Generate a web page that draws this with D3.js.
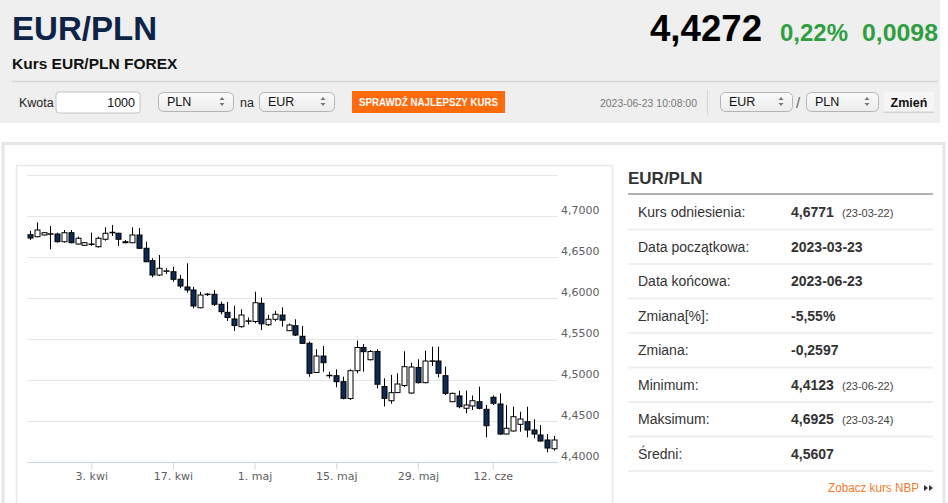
<!DOCTYPE html>
<html>
<head>
<meta charset="utf-8">
<script src="https://cdn.jsdelivr.net/npm/d3@7"></script>
<style>
  html, body { margin: 0; padding: 0; background: #fff; overflow: hidden; }
  svg { display: block; }
</style>
</head>
<body>
<div id="chart"></div>
<script>
// trading days (MM-DD, 2023) shown as candles
const days = [
  "03-23","03-24","03-26","03-27","03-28","03-29","03-30","03-31",
  "04-02","04-03","04-04","04-05","04-06","04-07",
  "04-09","04-10","04-11","04-12","04-13","04-14",
  "04-16","04-17","04-18","04-19","04-20","04-21",
  "04-23","04-24","04-25","04-26","04-27","04-28",
  "04-30","05-01","05-02","05-03","05-04","05-05",
  "05-07","05-08","05-09","05-10","05-11","05-12",
  "05-14","05-15","05-16","05-17","05-18","05-19",
  "05-21","05-22","05-23","05-24","05-25","05-26",
  "05-28","05-29","05-30","05-31","06-01","06-02",
  "06-05","06-06","06-07","06-08","06-09",
  "06-11","06-12","06-13","06-14","06-15","06-16",
  "06-19","06-20","06-21","06-22","06-23"
];
const opens = [
  4.6776,4.6751,4.6772,4.6784,4.6784,4.6690,4.6800,4.6662,4.6646,4.6662,
  4.6629,4.6720,4.6800,4.6793,4.6690,4.6678,4.6772,4.6610,4.6459,4.6284,
  4.6333,4.6324,4.6232,4.6138,4.6101,4.5885,4.6051,4.6049,4.5927,4.5829,
  4.5748,4.5654,4.5723,4.5717,4.5939,4.5678,4.5744,4.5796,4.5605,4.5666,
  4.5537,4.5451,4.5095,4.5296,4.5061,4.5056,4.4983,4.4778,4.5117,4.5400,
  4.5251,4.5351,4.4924,4.4751,4.4850,4.4937,4.4845,4.5156,4.4971,4.5233,
  4.5235,4.5056,4.4739,4.4809,4.4659,4.4687,4.4739,4.4646,4.4793,4.4711,
  4.4345,4.4382,4.4463,4.4495,4.4394,4.4333,4.4272,4.4165
];
const highs = [
  4.6821,4.6925,4.6809,4.6882,4.6800,4.6833,4.6833,4.6751,4.6685,4.6800,
  4.6751,4.6866,4.6894,4.6800,4.6711,4.6866,4.6857,4.6690,4.6488,4.6528,
  4.6366,4.6385,4.6284,4.6427,4.6138,4.6080,4.6065,4.6101,4.5959,4.5955,
  4.5910,4.5866,4.5766,4.6080,4.6007,4.5796,4.5846,4.5890,4.5693,4.5744,
  4.5663,4.5471,4.5378,4.5418,4.5105,4.5134,4.5044,4.5134,4.5485,4.5443,
  4.5369,4.5378,4.5024,4.5065,4.5085,4.5354,4.5215,4.5256,4.5360,4.5410,
  4.5410,4.5166,4.4850,4.4873,4.4873,4.4815,4.4922,4.4699,4.4815,4.4841,
  4.4699,4.4678,4.4617,4.4678,4.4524,4.4455,4.4345,4.4321
];
const lows = [
  4.6711,4.6744,4.6766,4.6598,4.6678,4.6678,4.6671,4.6654,4.6640,4.6641,
  4.6617,4.6702,4.6760,4.6638,4.6671,4.6672,4.6602,4.6440,4.6256,4.6272,
  4.6296,4.6202,4.6122,4.6068,4.5878,4.5878,4.6028,4.5906,4.5805,4.5723,
  4.5601,4.5641,4.5680,4.5695,4.5613,4.5664,4.5720,4.5654,4.5601,4.5540,
  4.5443,4.5044,4.5092,4.5105,4.5024,4.4915,4.4768,4.4760,4.5085,4.5105,
  4.5241,4.4902,4.4680,4.4715,4.4849,4.4918,4.4833,4.4963,4.4963,4.5174,
  4.5037,4.4821,4.4735,4.4659,4.4598,4.4638,4.4646,4.4305,4.4699,4.4333,
  4.4337,4.4373,4.4373,4.4305,4.4293,4.4251,4.4123,4.4142
];
const closes = [
  4.6735,4.6833,4.6800,4.6787,4.6690,4.6800,4.6678,4.6732,4.6678,4.6659,
  4.6732,4.6793,4.6805,4.6720,4.6678,4.6772,4.6610,4.6446,4.6284,4.6366,
  4.6335,4.6232,4.6150,4.6101,4.5906,4.6040,4.6047,4.5927,4.5837,4.5766,
  4.5668,4.5796,4.5725,4.5946,4.5689,4.5744,4.5805,4.5733,4.5674,4.5552,
  4.5451,4.5085,4.5296,4.5215,4.5059,4.4983,4.4780,4.5117,4.5400,4.5349,
  4.5351,4.4952,4.4780,4.4849,4.4955,4.5166,4.5162,4.4971,4.5235,4.5237,
  4.5085,4.4841,4.4841,4.4678,4.4699,4.4751,4.4659,4.4446,4.4720,4.4345,
  4.4415,4.4556,4.4528,4.4394,4.4345,4.4260,4.4174,4.4272
];

const yGrid = [4.40, 4.45, 4.50, 4.55, 4.60, 4.65, 4.70, 4.75];
const yLabels = [4.40, 4.45, 4.50, 4.55, 4.60, 4.65, 4.70];
const xTickDays = ["04-03", "04-17", "05-01", "05-15", "05-29", "06-12"];
const xTickLabels = ["3. kwi", "17. kwi", "1. maj", "15. maj", "29. maj", "12. cze"];

const statLabels = ["Kurs odniesienia:", "Data początkowa:", "Data końcowa:", "Zmiana[%]:",
  "Zmiana:", "Minimum:", "Maksimum:", "Średni:"];
const statValues = ["4,6771", "2023-03-23", "2023-06-23", "-5,55%", "-0,2597", "4,4123", "4,6925", "4,5607"];
const statDates = ["(23-03-22)", "", "", "", "", "(23-06-22)", "(23-03-24)", ""];

const W = 948, H = 503;
const SANS = "'Liberation Sans', Arial, sans-serif";
const CHART_FONT = "'DejaVu Sans', Verdana, sans-serif";

const svg = d3.select("#chart").append("svg").attr("width", W).attr("height", H);

// ---- header
svg.append("rect").attr("x", 0).attr("y", 0).attr("width", 940).attr("height", 123).attr("fill", "#efefef");

svg.append("text").attr("x", 12).attr("y", 39.5)
  .attr("textLength", 145).attr("lengthAdjust", "spacingAndGlyphs")
  .style("font", `bold 34px ${SANS}`).attr("fill", "#0d2447").text("EUR/PLN");

svg.append("text").attr("x", 650).attr("y", 41)
  .attr("textLength", 112).attr("lengthAdjust", "spacingAndGlyphs")
  .style("font", `bold 37px ${SANS}`).attr("fill", "#000").text("4,4272");
svg.append("text").attr("x", 780).attr("y", 40.5)
  .attr("textLength", 68).attr("lengthAdjust", "spacingAndGlyphs")
  .style("font", `bold 24px ${SANS}`).attr("fill", "#2f9e41").text("0,22%");
svg.append("text").attr("x", 862).attr("y", 40.5)
  .attr("textLength", 76).attr("lengthAdjust", "spacingAndGlyphs")
  .style("font", `bold 24px ${SANS}`).attr("fill", "#2f9e41").text("0,0098");

svg.append("text").attr("x", 12).attr("y", 68.5)
  .style("font", `bold 15.5px ${SANS}`).attr("fill", "#111").text("Kurs EUR/PLN FOREX");

svg.append("line").attr("x1", 12).attr("x2", 938).attr("y1", 81.5).attr("y2", 81.5)
  .attr("stroke", "#d8d8d8").attr("stroke-width", 1.5);

// ---- controls row
const ctrl = svg.append("g");
ctrl.append("text").attr("x", 19).attr("y", 107).style("font", `12.5px ${SANS}`).attr("fill", "#222").text("Kwota");
ctrl.append("rect").attr("x", 56).attr("y", 92).attr("width", 84).attr("height", 21).attr("rx", 3)
  .attr("fill", "#fff").attr("stroke", "#c4c4c4");
ctrl.append("text").attr("x", 135).attr("y", 107).attr("text-anchor", "end")
  .style("font", `12.5px ${SANS}`).attr("fill", "#111").text("1000");

const grad = svg.append("defs").append("linearGradient").attr("id", "selGrad")
  .attr("x1", 0).attr("x2", 0).attr("y1", 0).attr("y2", 1);
grad.append("stop").attr("offset", 0).attr("stop-color", "#fbfbfb");
grad.append("stop").attr("offset", 1).attr("stop-color", "#ececec");

function drawSelect(x, w, label) {
  const g = ctrl.append("g");
  g.append("rect").attr("x", x + 0.5).attr("y", 92.5).attr("width", w).attr("height", 19).attr("rx", 5)
    .attr("fill", "url(#selGrad)").attr("stroke", "#b4b4b4");
  g.append("text").attr("x", x + 9).attr("y", 106).style("font", `12.5px ${SANS}`).attr("fill", "#111").text(label);
  const ax = x + w - 11;
  g.append("path").attr("d", `M${ax - 2.5},100 L${ax + 2.5},100 L${ax},97 Z M${ax - 2.5},103 L${ax + 2.5},103 L${ax},106 Z`)
    .attr("fill", "#777");
}
drawSelect(158, 75, "PLN");
ctrl.append("text").attr("x", 240).attr("y", 107).style("font", `12.5px ${SANS}`).attr("fill", "#222").text("na");
drawSelect(259, 75, "EUR");

ctrl.append("rect").attr("x", 352).attr("y", 91).attr("width", 153).attr("height", 22).attr("fill", "#ff6a0d");
ctrl.append("text").attr("x", 359).attr("y", 106)
  .attr("textLength", 139).attr("lengthAdjust", "spacingAndGlyphs")
  .style("font", `bold 11px ${SANS}`).attr("fill", "#fff").text("SPRAWDŹ NAJLEPSZY KURS");

ctrl.append("text").attr("x", 600).attr("y", 107)
  .attr("textLength", 97).attr("lengthAdjust", "spacingAndGlyphs")
  .style("font", `11px ${SANS}`).attr("fill", "#777").text("2023-06-23 10:08:00");
ctrl.append("line").attr("x1", 707.5).attr("x2", 707.5).attr("y1", 90).attr("y2", 115).attr("stroke", "#d6d6d6");
drawSelect(720, 72, "EUR");
ctrl.append("text").attr("x", 796).attr("y", 108).style("font", `15px ${SANS}`).attr("fill", "#666").text("/");
drawSelect(806, 72, "PLN");
ctrl.append("rect").attr("x", 884).attr("y", 93).attr("width", 50).attr("height", 20).attr("fill", "#d2d2d2");
ctrl.append("rect").attr("x", 884).attr("y", 92).attr("width", 50).attr("height", 19.5).attr("fill", "#f6f6f6");
ctrl.append("text").attr("x", 909).attr("y", 107).attr("text-anchor", "middle")
  .style("font", `bold 12.5px ${SANS}`).attr("fill", "#111").text("Zmień");

// ---- lower panel
svg.append("rect").attr("x", 3).attr("y", 143.5).attr("width", 941).attr("height", 400)
  .attr("fill", "#fff").attr("stroke", "#e6e6e6").attr("stroke-width", 3);
svg.append("rect").attr("x", 16.5).attr("y", 165.5).attr("width", 596).attr("height", 360)
  .attr("fill", "#fff").attr("stroke", "#e8e8e8").attr("stroke-width", 1.5);

// ---- candlestick chart
const x = d3.scalePoint().domain(days).range([30, 554]);
const y = d3.scaleLinear().domain([4.40, 4.75]).range([462.3, 175.3]);
const plotL = 27, plotR = 558;
const fmt = d => d.toFixed(4).replace(".", ",");

const chart = svg.append("g");
chart.append("g").selectAll("line").data(yGrid.slice(1)).join("line")
  .attr("x1", plotL).attr("x2", plotR)
  .attr("y1", d => Math.round(y(d)) + 0.5).attr("y2", d => Math.round(y(d)) + 0.5)
  .attr("stroke", "#e6e6e6");

const yAxis = chart.append("g").attr("transform", `translate(${plotR},0)`)
  .call(d3.axisRight(y).tickValues(yLabels).tickFormat(fmt).tickSize(0).tickPadding(3));
yAxis.select(".domain").remove();
yAxis.selectAll("text").attr("dy", "-0.3em")
  .style("font", `11px ${CHART_FONT}`).attr("fill", "#606060");

const xAxis = chart.append("g").attr("transform", "translate(0,462.5)")
  .call(d3.axisBottom(x).tickValues(xTickDays)
    .tickFormat(d => xTickLabels[xTickDays.indexOf(d)]).tickSizeOuter(0).tickSize(7).tickPadding(3));
xAxis.select(".domain").attr("d", `M${plotL},0H${plotR}`).attr("stroke", "#ccd6eb");
xAxis.selectAll(".tick line").attr("stroke", "#ccd6eb");
xAxis.selectAll("text").style("font", `11px ${CHART_FONT}`).attr("fill", "#606060");

const candles = chart.append("g").selectAll("g").data(days).join("g")
  .attr("transform", d => `translate(${Math.round(x(d)) + 0.5},0)`);
candles.append("line")
  .attr("y1", (d, i) => y(highs[i])).attr("y2", (d, i) => y(lows[i]))
  .attr("stroke", "#000");
candles.append("rect")
  .attr("x", -2.5).attr("width", 5)
  .attr("y", (d, i) => y(Math.max(opens[i], closes[i])))
  .attr("height", (d, i) => Math.max(0.5, Math.abs(y(opens[i]) - y(closes[i]))))
  .attr("fill", (d, i) => closes[i] < opens[i] ? "#0e2a52" : "#fff")
  .attr("stroke", "#000");

// ---- stats table
const tbl = svg.append("g");
tbl.append("text").attr("x", 628).attr("y", 184)
  .style("font", `bold 17px ${SANS}`).attr("fill", "#333").text("EUR/PLN");
tbl.append("line").attr("x1", 628).attr("x2", 933).attr("y1", 194).attr("y2", 194)
  .attr("stroke", "#999").attr("stroke-width", 1.5);

const rows = d3.scaleBand().domain(statLabels).range([195, 471]);
const row = tbl.selectAll("g.row").data(statLabels).join("g").attr("class", "row")
  .attr("transform", d => `translate(0,${rows(d)})`);
row.append("line").attr("x1", 628).attr("x2", 933)
  .attr("y1", rows.bandwidth()).attr("y2", rows.bandwidth())
  .attr("stroke", "#efefef").attr("stroke-width", 2);
row.append("text").attr("x", 638).attr("y", rows.bandwidth() / 2 + 5)
  .style("font", `14px ${SANS}`).attr("fill", "#333").text(d => d);
row.append("text").attr("x", 791).attr("y", rows.bandwidth() / 2 + 5)
  .style("font", `bold 14px ${SANS}`).attr("fill", "#333").text((d, i) => statValues[i]);
row.append("text").attr("x", 842).attr("y", rows.bandwidth() / 2 + 5)
  .style("font", `11px ${SANS}`).attr("fill", "#444").text((d, i) => statDates[i]);

tbl.append("text").attr("x", 919).attr("y", 492).attr("text-anchor", "end")
  .attr("textLength", 91).attr("lengthAdjust", "spacingAndGlyphs")
  .style("font", `12px ${SANS}`).attr("fill", "#f47a2c").text("Zobacz kurs NBP");
tbl.append("path").attr("d", "M924,485 L928,488 L924,491 Z M929,485 L933,488 L929,491 Z").attr("fill", "#333");
</script>
</body>
</html>
